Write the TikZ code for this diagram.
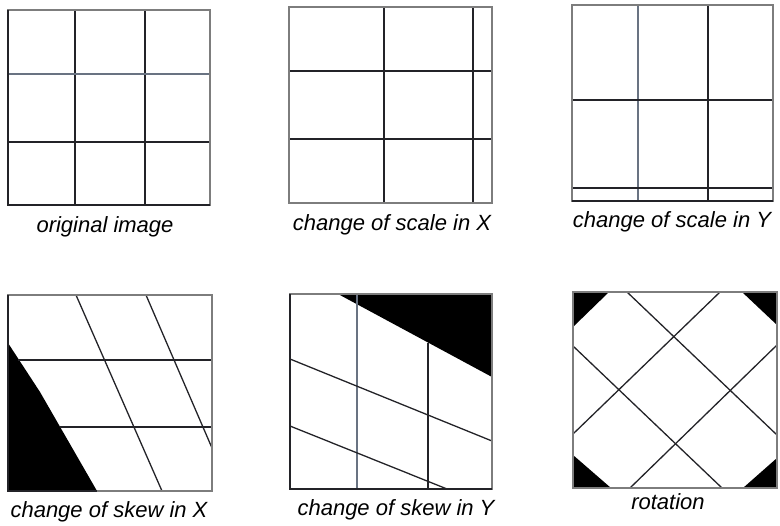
\documentclass[tikz,border=0pt]{standalone}
\usepackage{fontspec}
\setmainfont{Liberation Sans}
\definecolor{lndark}{RGB}{35,35,40}
\definecolor{lngray}{RGB}{105,115,130}
\definecolor{frgray}{RGB}{125,125,125}
\usetikzlibrary{positioning}

\begin{document}
\begin{tikzpicture}[x=1pt, y=-1pt,
    frame/.style={draw=frgray, line width=1.3pt},
    darkln/.style={draw=lndark, line width=1.3pt},
    grayln/.style={draw=lngray, line width=1.3pt},
    blk/.style={fill=black, draw=none},
    lbl/.style={font=\fontsize{22}{26}\selectfont\itshape, inner sep=0pt}
  ]
    \useasboundingbox (0,0) rectangle (780,526);

    % Panel 1: original image
    \draw[darkln] (75,10) -- (75,205);
    \draw[darkln] (145,10) -- (145,205);
    \draw[grayln] (8,74) -- (210,74);
    \draw[darkln] (8,142) -- (210,142);
    \draw[frame] (8,10) rectangle (210,205);
    \draw[darkln] (8,10) -- (8,205) -- (210,205);
    \node[lbl] (orig) at (105,227) {original image};

    % Panel 2: scale in X
    \draw[darkln] (384,7) -- (384,203);
    \draw[darkln] (473,7) -- (473,203);
    \draw[darkln] (289,71) -- (492,71);
    \draw[darkln] (289,139) -- (492,139);
    \draw[frame] (289,7) rectangle (492,203);
    \node[lbl] (scalex) at (392,225) {change of scale in X};

    % Panel 3: scale in Y
    \draw[grayln] (638,5) -- (638,201);
    \draw[darkln] (708,5) -- (708,201);
    \draw[darkln] (572,100) -- (773,100);
    \draw[darkln] (572,188) -- (773,188);
    \draw[frame] (572,5) rectangle (773,201);
    \draw[darkln] (572,201) -- (773,201);
    \node[lbl] (scaley) at (672,222) {change of scale in Y};

    % Panel 4: skew in X
    \fill[blk] (8,343) -- (40,392) -- (97,491) -- (8,491) -- cycle;
    \draw[darkln] (76,295) -- (162,491);
    \draw[darkln] (146,295) -- (212,448);
    \draw[darkln] (18,360) -- (212,360);
    \draw[darkln] (60,427) -- (212,427);
    \draw[frame] (8,295) rectangle (212,491);
    \draw[darkln] (8,295) -- (8,491) -- (97,491);
    \node[lbl] (skewx) at (109,512) {change of skew in X};

    % Panel 5: skew in Y
    \fill[blk] (338,294) -- (492,294) -- (492,377) -- cycle;
    \draw[grayln] (357,294) -- (357,489);
    \draw[darkln] (428,343) -- (428,489);
    \draw[darkln] (290,359) -- (492,441);
    \draw[darkln] (290,426) -- (447,489);
    \draw[frame] (290,294) rectangle (492,489);
    \draw[darkln] (290,294) -- (290,489) -- (492,489);
    \node[lbl] (skewy) at (396,510) {change of skew in Y};

    % Panel 6: rotation
    \fill[blk] (573,292) -- (609,292) -- (573,327) -- cycle;
    \fill[blk] (742,292) -- (777,292) -- (777,325) -- cycle;
    \fill[blk] (573,455) -- (611,488) -- (573,488) -- cycle;
    \fill[blk] (777,458) -- (777,488) -- (743,488) -- cycle;
    \draw[darkln] (627,292) -- (777,435);
    \draw[darkln] (573,346) -- (722,488);
    \draw[darkln] (720,292) -- (573,434);
    \draw[darkln] (777,345) -- (630,488);
    \draw[frame] (573,292) rectangle (777,488);
    \node[lbl] (rot) at (668,502) {rotation};
  \end{tikzpicture}
\end{document}
